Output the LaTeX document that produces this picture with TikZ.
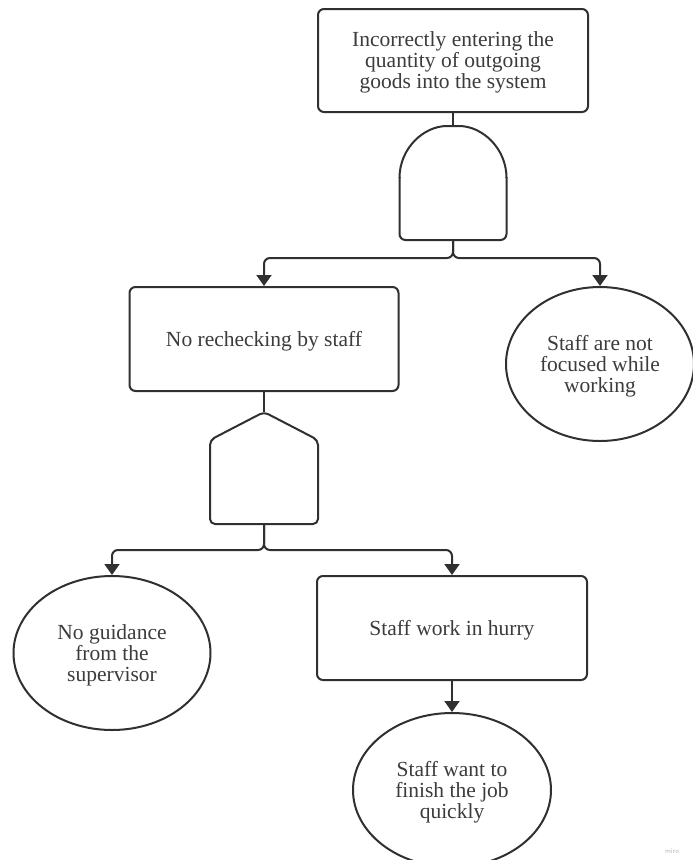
\documentclass[tikz,border=0pt]{standalone}
\usepackage{fontspec}
\setmainfont{Liberation Serif}
\usetikzlibrary{arrows.meta,shapes.geometric}
\definecolor{ink}{HTML}{303030}
\definecolor{txt}{HTML}{3C3C3C}
\begin{document}
\begin{tikzpicture}[x=1pt,y=-1pt,
  evbox/.style={draw=ink, line width=2pt, rounded corners=6pt, minimum width=270pt, minimum height=103pt, align=center, text=txt, font=\fontsize{21.5}{21}\selectfont, inner sep=0pt, text depth=0pt},
  evell/.style={ellipse, draw=ink, line width=2pt, minimum width=197pt, minimum height=154pt, align=center, text=txt, font=\fontsize{21.5}{21}\selectfont, inner sep=0pt, text depth=0pt},
  gatebox/.style={inner sep=0pt, outer sep=0pt, draw=none},
  conn/.style={draw=ink, line width=2pt, rounded corners=6pt},
  arr/.style={conn, -{Triangle[width=15pt,length=11pt]}}]
\fill[white] (0,0) rectangle (693,860);
\useasboundingbox (0,0) rectangle (693,860);

% nodes
\node[evbox] (top) at (453,60.5) {Incorrectly entering the\\quantity of outgoing\\goods into the system};
\node[gatebox, minimum width=107pt, minimum height=114pt] (andg) at (453,183) {};
\node[evbox, minimum width=269pt, minimum height=104pt] (recheck) at (264,339) {No rechecking by staff};
\node[evell, minimum width=188pt] (focus) at (600,364) {Staff are not\\focused while\\working};
\node[gatebox, minimum width=108pt, minimum height=112pt] (inh) at (264,468) {};
\node[evell] (guid) at (112,653) {No guidance\\from the\\supervisor};
\node[evbox, minimum height=104pt] (hurry) at (452,628) {Staff work in hurry};
\node[evell, minimum width=198pt] (quick) at (452,790) {Staff want to\\finish the job\\quickly};
\node[font=\sffamily\fontsize{7}{7}\selectfont, text=black!28, inner sep=0pt] (miro) at (672,851) {miro};

% AND gate shape
\draw[conn] (399.5,178) .. controls (399.5,148) and (424,126) .. (453,126)
            .. controls (482,126) and (506.5,148) .. (506.5,178);
\draw[conn] (399.5,177) -- (399.5,240) -- (506.5,240) -- (506.5,177);

% house gate shape
\draw[conn, rounded corners=5pt] (264,412) -- (318,440) -- (318,524) -- (210,524) -- (210,440) -- cycle;

% connectors
\draw[conn] (top.south) -- (andg.north);
\draw[arr] (andg.south) -- ++(0,18) -| (recheck.north);
\draw[arr] (andg.south) -- ++(0,18) -| (focus.north);
\draw[conn] (recheck.south) -- (inh.north);
\draw[arr] (inh.south) -- ++(0,26) -| (guid.north);
\draw[arr] (inh.south) -- ++(0,26) -| (hurry.north);
\draw[arr] (hurry.south) -- (quick.north);
\end{tikzpicture}
\end{document}
